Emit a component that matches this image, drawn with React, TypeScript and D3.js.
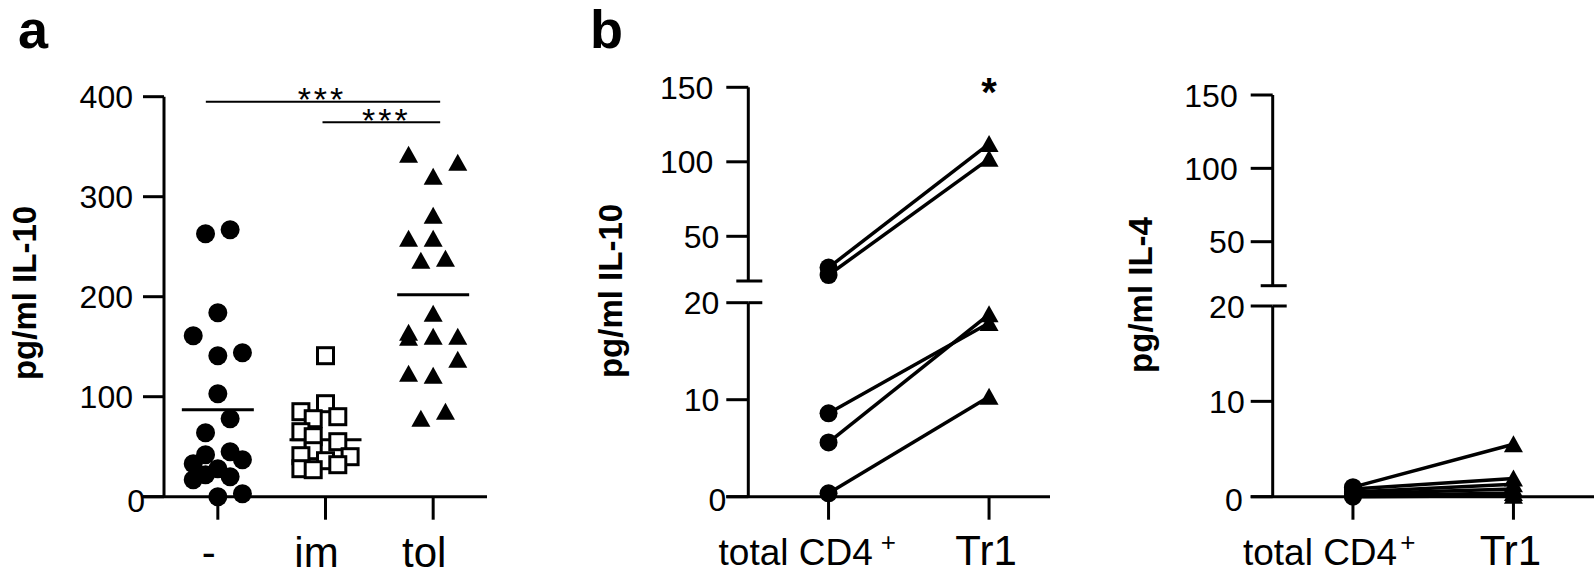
import React from 'react';
import * as d3 from 'd3';

// ---------- Panel a data ----------
const groupsA = ['-', 'im', 'tol'];
const noneVals = [267, 263, 184, 161, 144, 141, 103, 78, 64, 45, 42, 37, 33, 28, 22, 20, 17, 3, 0];
const noneSlots = [1, -1, 0, -2, 2, 0, 0, 1, -1, 1, -1, 2, -2, 0, -1, 1, -2, 2, 0];
const imVals = [141, 93, 85, 80, 78, 65, 60, 55, 46, 41, 40, 36, 32, 28, 27];
const imSlots = [0, 0, -2, 1, -1, -2, -1, 1, -1, -2, 2, 0, 1, -2, -1];
const tolVals = [342, 334, 320, 281, 258, 258, 236, 238, 183, 164, 159, 160, 160, 137, 123, 121, 78, 85];
const tolSlots = [-2, 2, 0, 0, -2, 0, -1, 1, 0, -2, -2, 0, 2, 2, -2, 0, -1, 1];
const meansA = [87, 57, 202];
const ticksA = [0, 100, 200, 300, 400];
const sigFrom = [0, 1];
const sigTo = [2, 2];
const sigY = [395, 374.5];
const sigLabels = ['***', '***'];

// ---------- Panel b data ----------
const groupsB = ['total CD4+', 'Tr1'];
const il10Cd4 = [29, 24, 8.6, 5.6, 0.35];
const il10Tr1 = [112, 102, 17.9, 18.8, 10.3];
const il4Cd4 = [1.0, 0.8, 0.5, 0.3, 0.1, 0.0];
const il4Tr1 = [5.5, 1.9, 1.3, 0.8, 0.4, 0.1];
const ticksLower = [0, 10, 20];
const ticksUpper = [50, 100, 150];

const FONT = 'Liberation Sans, Arial, Helvetica, sans-serif';
const SW = 3;

const Circle = ({ x, y, r = 9.5 }: any) => <circle cx={x} cy={y} r={r} fill="#000" />;
const Square = ({ x, y }: any) => (
  <rect x={x - 8} y={y - 8} width={16} height={16} fill="#fff" stroke="#000" strokeWidth={3} />
);
const Tri = ({ x, y }: any) => (
  <path d={`M${x},${y - 9}L${x + 9.5},${y + 8}L${x - 9.5},${y + 8}Z`} fill="#000" />
);

function tickLabelOffset(label: string, offs: Record<number, number>) {
  return offs[label.length] ?? offs[2];
}

function PanelA() {
  const y = d3.scaleLinear().domain([0, 400]).range([496.7, 96.7]);
  const x = d3.scalePoint<string>().domain(groupsA).range([164, 487]).padding(0.5);
  const axisX = 164;
  const slotW = 12.3;
  const offs: Record<number, number> = { 3: -31, 1: -19, 2: -31 };
  const series = [
    { vals: noneVals, slots: noneSlots, Sym: Circle },
    { vals: imVals, slots: imSlots, Sym: Square },
    { vals: tolVals, slots: tolSlots, Sym: Tri },
  ];
  return (
    <g>
      <text x={18} y={48} fontSize={54} fontWeight="bold" fontFamily={FONT}>a</text>
      <text transform={`translate(36,293) rotate(-90)`} textAnchor="middle" fontSize={33} fontWeight="bold" fontFamily={FONT}>pg/ml IL-10</text>
      <line x1={axisX} x2={axisX} y1={y(400)} y2={y(0)} stroke="#000" strokeWidth={SW} />
      <line x1={axisX - 21} x2={487} y1={y(0)} y2={y(0)} stroke="#000" strokeWidth={SW} />
      {ticksA.map((t) => (
        <g key={t}>
          <line x1={axisX - 21} x2={axisX} y1={y(t)} y2={y(t)} stroke="#000" strokeWidth={SW} />
          <text x={axisX + tickLabelOffset(String(t), offs)} y={y(t) + (t === 0 ? 4 : 0)} dy="0.36em" textAnchor="end" fontSize={32} fontFamily={FONT}>{t}</text>
        </g>
      ))}
      {groupsA.map((g) => (
        <g key={g}>
          <line x1={x(g)!} x2={x(g)!} y1={y(0)} y2={y(0) + 23} stroke="#000" strokeWidth={SW} />
          <text x={x(g)! - 9} y={567} textAnchor="middle" fontSize={42} fontFamily={FONT}>{g}</text>
        </g>
      ))}
      {groupsA.map((g, i) => (
        <line key={g} x1={x(g)! - 36} x2={x(g)! + 36} y1={y(meansA[i])} y2={y(meansA[i])} stroke="#000" strokeWidth={3} />
      ))}
      {series.map((s, si) =>
        s.vals.map((v, i) => {
          const Sym = s.Sym;
          return <Sym key={`${si}-${i}`} x={x(groupsA[si])! + s.slots[i] * slotW} y={y(v)} />;
        })
      )}
      {sigFrom.map((f, i) => {
        const x1 = i === 0 ? x(groupsA[f])! - 12 : x(groupsA[f])! - 3;
        const x2 = x(groupsA[sigTo[i]])! + 7;
        return (
          <g key={i}>
            <line x1={x1} x2={x2} y1={y(sigY[i])} y2={y(sigY[i])} stroke="#000" strokeWidth={2} />
            <text x={(x1 + x2) / 2 + (i === 0 ? -1 : 5)} y={y(sigY[i]) + 9.5} textAnchor="middle" fontSize={34} letterSpacing={3} fontFamily={FONT}>{sigLabels[i]}</text>
          </g>
        );
      })}
    </g>
  );
}

function PanelB({ axisX, upper, lower, xEnd, cd4, tr1, label, labelX, labelY, offs, star, plusDx }: any) {
  const yLow = d3.scaleLinear().domain([0, 20]).range(lower);
  const yUp = d3.scaleLinear().domain([20, 150]).range(upper);
  const y = (v: number) => (v <= 20 ? yLow(v) : yUp(v));
  const step = 160.5;
  const x = d3.scalePoint<string>().domain(groupsB).range([axisX, axisX + 2 * step]).padding(0.5);
  const x0 = x(groupsB[0])!;
  const x1 = x(groupsB[1])!;
  return (
    <g>
      <text transform={`translate(${labelX},${labelY}) rotate(-90)`} textAnchor="middle" fontSize={33} fontWeight="bold" fontFamily={FONT}>{label}</text>
      <line x1={axisX} x2={axisX} y1={yLow(20)} y2={yLow(0)} stroke="#000" strokeWidth={SW} />
      <line x1={axisX} x2={axisX} y1={yUp(150)} y2={yUp(20)} stroke="#000" strokeWidth={SW} />
      <line x1={axisX - 12} x2={axisX + 14} y1={yUp(20)} y2={yUp(20)} stroke="#000" strokeWidth={SW} />
      <line x1={axisX} x2={axisX + 14} y1={yLow(20)} y2={yLow(20)} stroke="#000" strokeWidth={SW} />
      {ticksLower.map((t) => (
        <g key={`l${t}`}>
          <line x1={axisX - 22} x2={axisX} y1={yLow(t)} y2={yLow(t)} stroke="#000" strokeWidth={SW} />
          <text x={axisX + tickLabelOffset(String(t), offs)} y={yLow(t) + (t === 0 ? 3 : 0)} dy="0.36em" textAnchor="end" fontSize={32} fontFamily={FONT}>{t}</text>
        </g>
      ))}
      {ticksUpper.map((t) => (
        <g key={`u${t}`}>
          <line x1={axisX - 22} x2={axisX} y1={yUp(t)} y2={yUp(t)} stroke="#000" strokeWidth={SW} />
          <text x={axisX + tickLabelOffset(String(t), offs)} y={yUp(t)} dy="0.36em" textAnchor="end" fontSize={32} fontFamily={FONT}>{t}</text>
        </g>
      ))}
      <line x1={axisX - 22} x2={xEnd} y1={yLow(0)} y2={yLow(0)} stroke="#000" strokeWidth={SW} />
      {groupsB.map((g) => (
        <line key={g} x1={x(g)!} x2={x(g)!} y1={yLow(0)} y2={yLow(0) + 23} stroke="#000" strokeWidth={SW} />
      ))}
      <text x={x0 - 110} y={565} fontSize={37} fontFamily={FONT}>
        {groupsB[0].replace('+', '')}
        <tspan dx={plusDx} dy={-14} fontSize={26}>+</tspan>
      </text>
      <text x={x1 - 3} y={565} textAnchor="middle" fontSize={42} fontFamily={FONT}>{groupsB[1]}</text>
      {cd4.map((v: number, i: number) => (
        <line key={`ln${i}`} x1={x0} x2={x1} y1={y(v)} y2={y(tr1[i])} stroke="#000" strokeWidth={3.5} />
      ))}
      {cd4.map((v: number, i: number) => (
        <Circle key={`c${i}`} x={x0} y={y(v)} r={9} />
      ))}
      {tr1.map((v: number, i: number) => (
        <Tri key={`t${i}`} x={x1} y={y(v)} />
      ))}
      {star && (
        <text x={x1} y={106} textAnchor="middle" fontSize={40} fontWeight="bold" fontFamily={FONT}>{star}</text>
      )}
    </g>
  );
}

export default function App() {
  return (
    <svg width={1594} height={582} style={{ position: 'absolute', left: 0, top: 0, background: '#fff' }} fontFamily={FONT}>
      <rect width={1594} height={582} fill="#fff" />
      <PanelA />
      <text x={590} y={48} fontSize={54} fontWeight="bold" fontFamily={FONT}>b</text>
      <PanelB
        axisX={748.3}
        upper={[281, 87.3]}
        lower={[496.7, 302.7]}
        xEnd={1050}
        cd4={il10Cd4}
        tr1={il10Tr1}
        label="pg/ml IL-10"
        labelX={622}
        labelY={291}
        offs={{ 3: -35, 2: -29, 1: -22 }}
        star="*"
        plusDx={8}
      />
      <PanelB
        axisX={1272.7}
        upper={[285.7, 95]}
        lower={[496.7, 306]}
        xEnd={1594}
        cd4={il4Cd4}
        tr1={il4Tr1}
        label="pg/ml IL-4"
        labelX={1152}
        labelY={295}
        offs={{ 3: -35, 2: -28, 1: -30 }}
        star={null}
        plusDx={3}
      />
    </svg>
  );
}
